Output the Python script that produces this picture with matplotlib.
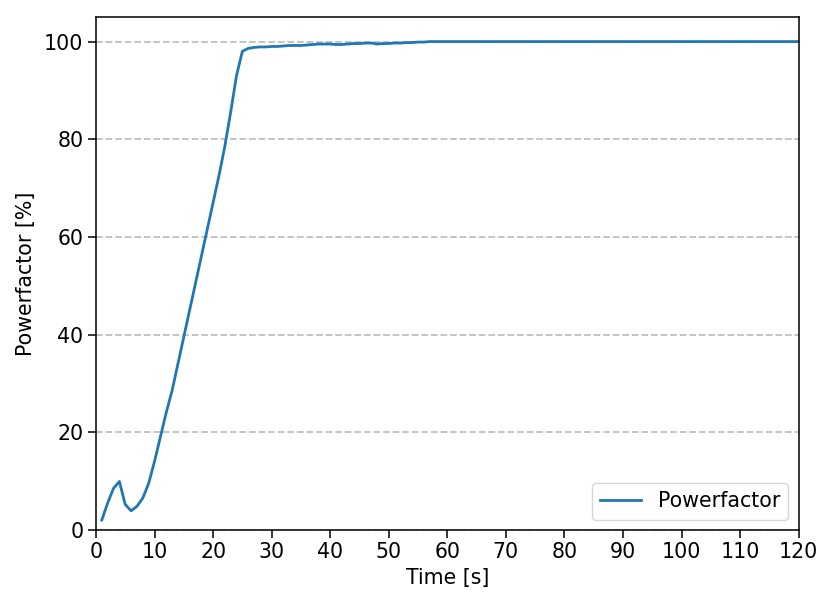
import matplotlib
matplotlib.use("Agg")
import matplotlib.pyplot as plt
import numpy as np

time_s = list(range(1, 121))
early = [2, 5.5, 8.5, 9.9, 5.2, 3.9, 4.8, 6.5, 9.5, 14, 19, 24, 28.5, 34, 39.5, 45,
         50.5, 56, 61.5, 67, 72.5, 78.5, 85.5, 93, 98, 98.6, 98.8, 98.9, 98.9, 99.0,
         99.0, 99.1, 99.2, 99.2, 99.2, 99.3, 99.4, 99.5, 99.5, 99.5, 99.4, 99.4, 99.5,
         99.6, 99.6, 99.7, 99.7, 99.5, 99.6, 99.6, 99.7, 99.7, 99.8, 99.8, 99.9, 99.9,
         100, 100, 100, 100]
powerfactor = early + [100] * (len(time_s) - len(early))

fs = 14.8
plt.rcParams['font.family'] = ['DejaVu Sans']
fig = plt.figure(figsize=(8.2, 5.92), dpi=100)
ax = fig.add_axes([0.117, 0.105, 0.857, 0.866])
ax.plot(time_s, powerfactor, color='#1f77b4', linewidth=2.0, label='Powerfactor')
ax.set_xlim(0, 120)
ax.set_ylim(0, 105)
ax.set_xticks(np.arange(0, 121, 10))
ax.set_yticks(np.arange(0, 101, 20))
ax.yaxis.grid(True, linestyle='--', color='#bfbfbf', linewidth=1.3)
ax.set_axisbelow(True)
for s in ax.spines.values():
    s.set_linewidth(1.1)
ax.tick_params(labelsize=fs, length=5.5, width=1.1)
ax.set_xlabel('Time [s]', fontsize=fs, labelpad=4)
ax.set_ylabel('Powerfactor [%]', fontsize=fs, labelpad=6)
ax.legend(loc='lower right', fontsize=fs)
fig.savefig('out.png', dpi=100)
